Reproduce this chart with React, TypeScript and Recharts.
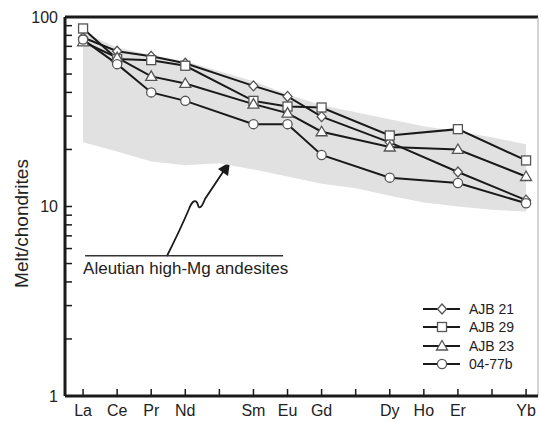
import {
  ComposedChart,
  Line,
  Area,
  XAxis,
  YAxis,
  ReferenceLine,
  Customized,
} from "recharts";

// chondrite-normalised REE
const ELEMENTS = ["La", "Ce", "Pr", "Nd", "Pm", "Sm", "Eu", "Gd", "Tb", "Dy", "Ho", "Er", "Tm", "Yb"];
const TICK_LABELS = ["La", "Ce", "Pr", "Nd", "", "Sm", "Eu", "Gd", "", "Dy", "Ho", "Er", "", "Yb"];
const AJB21 = [78, 66, 62, 57, null, 43.3, 38.1, 29.8, null, 21.8, null, 15.2, null, 10.8];
const AJB29 = [87, 60, 59.2, 55.3, null, 36.1, 33.7, 33.3, null, 23.7, null, 25.6, null, 17.5];
const AJB23 = [74, 61, 48.6, 44.6, null, 34.7, 31.1, 24.8, null, 20.6, null, 20.0, null, 14.4];
const S0477B = [76, 56.4, 40, 36.1, null, 27.2, 27.2, 18.7, null, 14.2, null, 13.3, null, 10.4];
const BAND_LOW = [21.8, 19.5, 17.3, 16.5, 16.9, 15.7, 14.4, 13.2, 12.5, 11.4, 10.5, 10.0, 9.6, 9.4];
const BAND_HIGH = [83, 69, 63, 58.5, 51.8, 45.8, 39.1, 34.2, 31.4, 28.9, 26.5, 24.9, 23.2, 21.3];
const Y_TICKS = [1, 2, 3, 4, 5, 6, 7, 8, 9, 10, 20, 30, 40, 50, 60, 70, 80, 90, 100];

const SERIES = [
  { key: "ajb21", name: "AJB 21", values: AJB21, marker: "diamond" },
  { key: "ajb29", name: "AJB 29", values: AJB29, marker: "square" },
  { key: "ajb23", name: "AJB 23", values: AJB23, marker: "triangle" },
  { key: "s0477b", name: "04-77b", values: S0477B, marker: "circle" },
];

const data = ELEMENTS.map((el, i) => {
  const row: any = { idx: i, el, band: [BAND_LOW[i], BAND_HIGH[i]] };
  SERIES.forEach((s) => {
    row[s.key] = s.values[i];
  });
  return row;
});

const FONT = "'Liberation Sans', Arial, Helvetica, sans-serif";
const INK = "#1a1a1a";

function Marker({ kind, cx, cy }: { kind: string; cx: number; cy: number }) {
  const common = { fill: "#fff", stroke: "#555", strokeWidth: 1.3 };
  if (kind === "square") return <rect x={cx - 4.5} y={cy - 4.5} width={9} height={9} {...common} />;
  if (kind === "circle") return <circle cx={cx} cy={cy} r={4.6} {...common} />;
  if (kind === "triangle")
    return <polygon points={`${cx},${cy - 5.5} ${cx + 5.5},${cy + 4} ${cx - 5.5},${cy + 4}`} {...common} />;
  return <polygon points={`${cx},${cy - 5} ${cx + 4.5},${cy} ${cx},${cy + 5} ${cx - 4.5},${cy}`} {...common} />;
}

const makeDot = (kind: string) => (p: any) => {
  if (p.value == null || p.cy == null) return <g key={p.index} />;
  return (
    <g key={p.index}>
      <Marker kind={kind} cx={p.cx} cy={p.cy} />
    </g>
  );
};

const XTick = (props: any) => {
  const { x, y, payload } = props;
  return (
    <g>
      <line x1={x} x2={x} y1={y} y2={y - 7} stroke={INK} strokeWidth={1.5} />
      <text x={x} y={y + 20} textAnchor="middle" fontSize={16} fill="#222" fontFamily={FONT}>
        {TICK_LABELS[payload.value]}
      </text>
    </g>
  );
};

const YTick = (props: any) => {
  const { x, y, payload } = props;
  const v = payload.value;
  const major = v === 1 || v === 10 || v === 100;
  return (
    <g>
      <line x1={x} x2={x + 7} y1={y} y2={y} stroke={INK} strokeWidth={1.5} />
      {major && (
        <text x={x - 7} y={y} dy="0.35em" textAnchor="end" fontSize={16} fill="#222" fontFamily={FONT}>
          {v}
        </text>
      )}
    </g>
  );
};

const YLabel = (props: any) => {
  const { viewBox } = props;
  const x = viewBox.x + 28;
  const y = viewBox.y + viewBox.height / 2 + 17;
  return (
    <text
      x={x}
      y={y}
      transform={`rotate(-90 ${x} ${y})`}
      textAnchor="middle"
      fontSize={19}
      fill="#222"
      fontFamily={FONT}
    >
      Melt/chondrites
    </text>
  );
};

const BandLabel = (props: any) => {
  const { viewBox } = props;
  return (
    <text x={viewBox.x - 2} y={viewBox.y + 18} fontSize={17} fill="#222" fontFamily={FONT}>
      Aleutian high-Mg andesites
    </text>
  );
};

// curved pointer from the label line into the grey field
const Pointer = () => (
  <g>
    <path
      d="M167 256 Q180 230 189 209 C192 201 196 198 198 205 C199 210 202 207 205 199 L225 169"
      fill="none"
      stroke={INK}
      strokeWidth={1.8}
    />
    <polygon points="230,162 228,176 218,169" fill={INK} />
  </g>
);

const LegendBox = () => (
  <div
    style={{
      position: "absolute",
      left: 423,
      top: 300,
      fontFamily: FONT,
      fontSize: 14,
      color: "#222",
    }}
  >
    {SERIES.map((s) => (
      <div key={s.key} style={{ display: "flex", alignItems: "center", height: 18.3 }}>
        <svg width={46} height={18} style={{ display: "block" }}>
          <line x1={0} x2={37} y1={9} y2={9} stroke={INK} strokeWidth={2} />
          <Marker kind={s.marker} cx={19} cy={9} />
        </svg>
        <span style={{ lineHeight: "18px" }}>{s.name}</span>
      </div>
    ))}
  </div>
);

export default function App() {
  return (
    <div style={{ position: "absolute", left: 0, top: 0, width: 541, height: 421, background: "#fff" }}>
      <ComposedChart
        width={541}
        height={421}
        data={data}
        margin={{ top: 17, right: 3, bottom: 0, left: 0 }}
      >
        <Area
          dataKey="band"
          type="linear"
          stroke="none"
          fill="#e1e1e1"
          fillOpacity={1}
          isAnimationActive={false}
          legendType="none"
        />
        <XAxis
          dataKey="idx"
          type="number"
          domain={[-0.53, 13.35]}
          ticks={ELEMENTS.map((_, i) => i)}
          interval={0}
          height={25}
          tickSize={0}
          tickMargin={0}
          tickLine={false}
          axisLine={{ stroke: INK, strokeWidth: 3 }}
          tick={<XTick />}
        />
        <YAxis
          scale="log"
          domain={[1, 100]}
          allowDataOverflow
          ticks={Y_TICKS}
          interval={0}
          width={65}
          tickSize={0}
          tickMargin={0}
          tickLine={false}
          axisLine={{ stroke: INK, strokeWidth: 3 }}
          tick={<YTick />}
          label={<YLabel />}
        />
        <ReferenceLine y={100} stroke={INK} strokeWidth={3} />
        <ReferenceLine x={13.35} stroke="#aaa" strokeWidth={1} />
        <ReferenceLine
          segment={[
            { x: 0.06, y: 5.5 },
            { x: 5.87, y: 5.5 },
          ]}
          stroke="#333"
          strokeWidth={1.5}
          label={<BandLabel />}
        />
        <Customized component={<Pointer />} />
        {SERIES.map((s) => (
          <Line
            key={s.key}
            dataKey={s.key}
            name={s.name}
            type="linear"
            stroke={INK}
            strokeWidth={2}
            connectNulls
            dot={makeDot(s.marker)}
            activeDot={false}
            isAnimationActive={false}
          />
        ))}
      </ComposedChart>
      <LegendBox />
    </div>
  );
}
